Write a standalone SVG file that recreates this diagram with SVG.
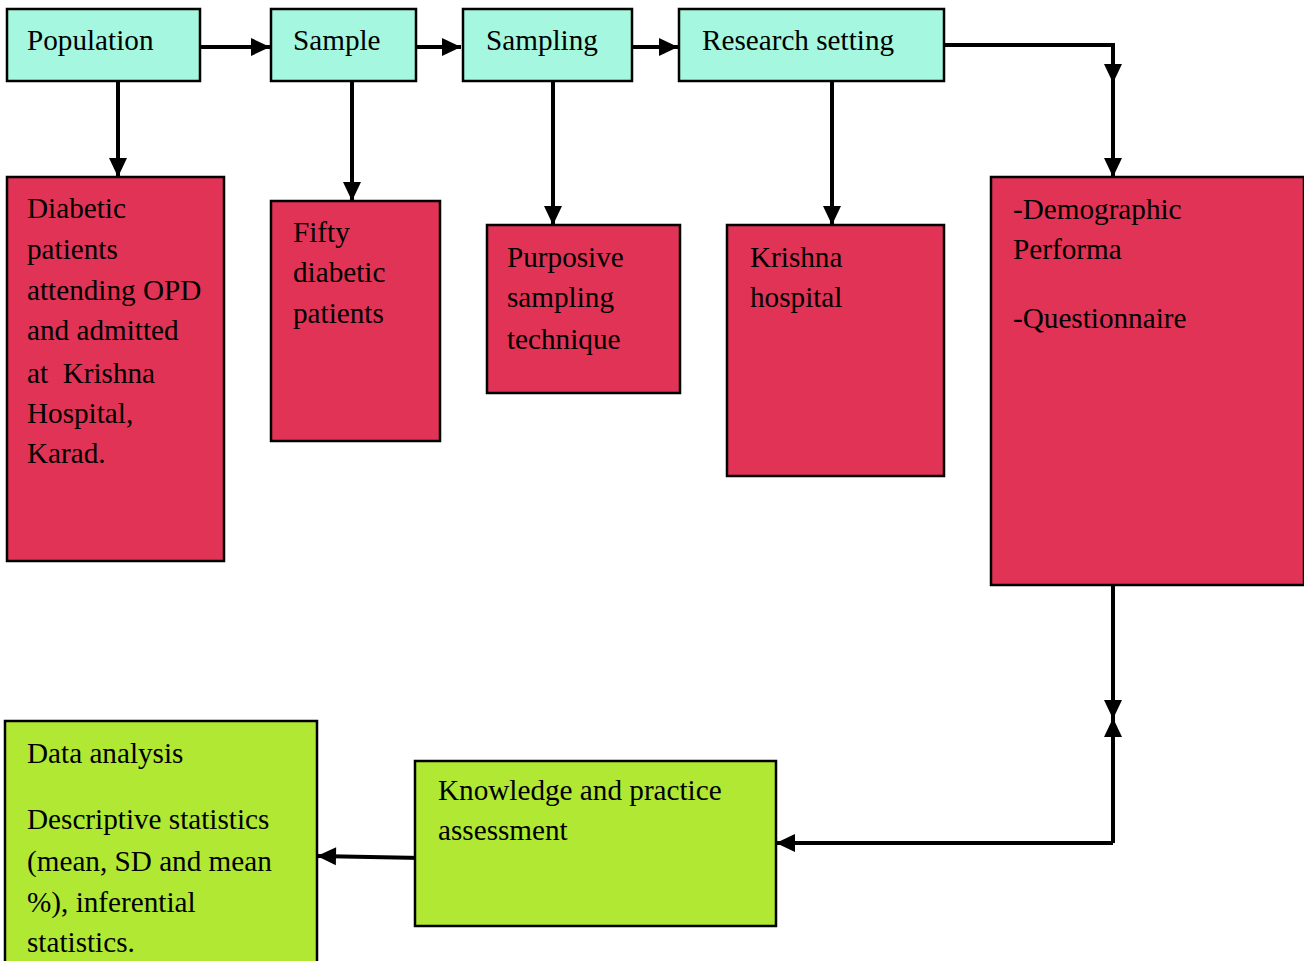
<svg xmlns="http://www.w3.org/2000/svg" width="1304" height="961" viewBox="0 0 1304 961">
<style>
.box{stroke:#000;stroke-width:2.5}
.c{fill:#a5f7df}.r{fill:#e03355}.g{fill:#b0e833}
text{font-family:"Liberation Serif","Times New Roman",serif;font-size:29.2px;fill:#000;white-space:pre}
.ln{fill:none;stroke:#000;stroke-width:4}
</style>
<defs>
<marker id="ah" markerUnits="userSpaceOnUse" markerWidth="24" markerHeight="24" viewBox="0 0 24 24" refX="22" refY="12" orient="auto">
<path d="M3,3 L22,12 L3,21 Z" fill="#000"/>
</marker>
</defs>
<g id="connectors">
<path class="ln" d="M197,47 H270" marker-end="url(#ah)"/>
<path class="ln" d="M413,47 H461" marker-end="url(#ah)"/>
<path class="ln" d="M629,47 H678" marker-end="url(#ah)"/>
<path class="ln" d="M118,81 V177" marker-end="url(#ah)"/>
<path class="ln" d="M352,81 V201" marker-end="url(#ah)"/>
<path class="ln" d="M553,81 V225" marker-end="url(#ah)"/>
<path class="ln" d="M832,81 V225" marker-end="url(#ah)"/>
<path class="ln" d="M944,45 H1113 V83" marker-end="url(#ah)"/>
<path class="ln" d="M1113,80 V177" marker-end="url(#ah)"/>
<path class="ln" d="M1113,585 V719" marker-end="url(#ah)"/>
<path class="ln" d="M1113,843 V718" marker-end="url(#ah)"/>
<path class="ln" d="M1113,843 H776" marker-end="url(#ah)"/>
<path class="ln" d="M422,858 L317,856" marker-end="url(#ah)"/>
</g>
<g id="population"><rect class="box c" x="7" y="9" width="193" height="72"/><text x="27" y="50">Population</text></g>
<g id="sample"><rect class="box c" x="271" y="9" width="145" height="72"/><text x="293" y="50">Sample</text></g>
<g id="sampling"><rect class="box c" x="463" y="9" width="169" height="72"/><text x="486" y="50">Sampling</text></g>
<g id="research-setting"><rect class="box c" x="679" y="9" width="265" height="72"/><text x="702" y="50">Research setting</text></g>
<g id="diabetic"><rect class="box r" x="7" y="177" width="217" height="384"/>
<text x="27" y="218">Diabetic</text><text x="27" y="259">patients</text><text x="27" y="300">attending OPD</text><text x="27" y="340">and admitted</text><text x="27" y="383">at  Krishna</text><text x="27" y="423">Hospital,</text><text x="27" y="463">Karad.</text></g>
<g id="fifty"><rect class="box r" x="271" y="201" width="169" height="240"/>
<text x="293" y="242">Fifty</text><text x="293" y="282">diabetic</text><text x="293" y="323">patients</text></g>
<g id="purposive"><rect class="box r" x="487" y="225" width="193" height="168"/>
<text x="507" y="267">Purposive</text><text x="507" y="307">sampling</text><text x="507" y="349">technique</text></g>
<g id="krishna"><rect class="box r" x="727" y="225" width="217" height="251"/>
<text x="750" y="267">Krishna</text><text x="750" y="307">hospital</text></g>
<g id="tools"><rect class="box r" x="991" y="177" width="313" height="408"/>
<text x="1013" y="219">-Demographic</text><text x="1013" y="259">Performa</text><text x="1013" y="328">-Questionnaire</text></g>
<g id="knowledge"><rect class="box g" x="415" y="761" width="361" height="165"/>
<text x="438" y="800">Knowledge and practice</text><text x="438" y="840">assessment</text></g>
<g id="data-analysis"><rect class="box g" x="5" y="721" width="312" height="245"/>
<text x="27" y="763">Data analysis</text><text x="27" y="829">Descriptive statistics</text><text x="27" y="871">(mean, SD and mean</text><text x="27" y="912">%), inferential</text><text x="27" y="952">statistics.</text></g>
</svg>
